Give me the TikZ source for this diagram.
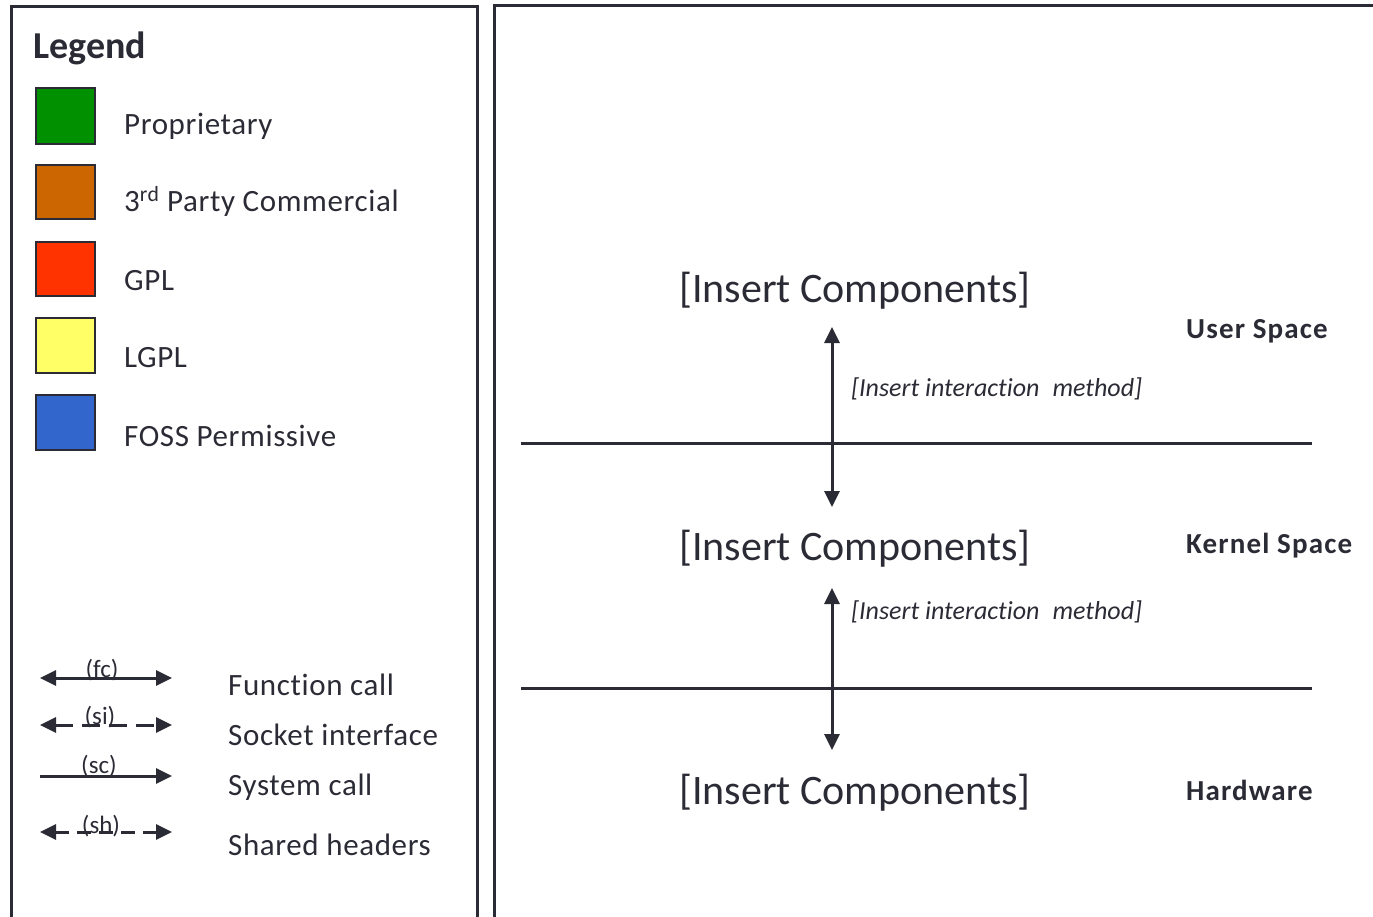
\documentclass[tikz,border=0pt]{standalone}
\usepackage{fontspec}
\setmainfont[Ligatures=CommonOff]{Carlito}
\usetikzlibrary{arrows.meta}
\definecolor{ink}{HTML}{2B2B36}
\definecolor{cProp}{HTML}{009000}
\definecolor{cComm}{HTML}{CC6600}
\definecolor{cGPL}{HTML}{FF3300}
\definecolor{cLGPL}{HTML}{FFFF66}
\definecolor{cFOSS}{HTML}{3366CC}
\tikzset{
  frame/.style={draw=ink, line width=3pt},
  swatch/.style={draw=ink, line width=2.4pt},
  legtxt/.style={anchor=base west, inner sep=0pt, text=ink, font=\fontsize{31}{36}\selectfont\addfontfeature{LetterSpace=2}},
  arrtxt/.style={anchor=base west, inner sep=0pt, text=ink, font=\fontsize{31}{36}\selectfont\addfontfeature{LetterSpace=2}},
  smalllbl/.style={inner sep=0pt, text=ink, font=\fontsize{25}{30}\selectfont},
  comp/.style={anchor=base, inner sep=0pt, text=ink, font=\fontsize{42}{50}\selectfont},
  layer/.style={anchor=base west, inner sep=0pt, text=ink, font=\bfseries\fontsize{29}{34}\selectfont\addfontfeature{LetterSpace=4}},
  imeth/.style={anchor=west, inner sep=0pt, text=ink, font=\itshape\fontsize{26}{31}\selectfont},
  conn/.style={draw=ink, line width=3pt, {Triangle[width=15pt,length=16pt]}-{Triangle[width=15pt,length=16pt]}},
  conn1/.style={draw=ink, line width=3pt, -{Triangle[width=15pt,length=16pt]}},
  sep/.style={draw=ink, line width=3pt},
  dsh/.style={dash pattern=on 18pt off 9pt},
}
\begin{document}
\begin{tikzpicture}[x=1pt,y=-1pt]
\useasboundingbox (0,0) rectangle (1373,916);
% frames
\draw[frame] (11,930) -- (11,6) -- (477,6) -- (477,930);
\draw[frame] (494,930) -- (494,5) -- (1390,5);
% legend
\node[anchor=base west, inner sep=0pt, text=ink, font=\bfseries\fontsize{38}{44}\selectfont] (leg) at (33,58) {Legend};
\node[swatch, fill=cProp, minimum width=59pt, minimum height=56pt, anchor=north west] (s1) at (35,87) {};
\node[swatch, fill=cComm, minimum width=59pt, minimum height=54pt, anchor=north west] (s2) at (35,164) {};
\node[swatch, fill=cGPL, minimum width=59pt, minimum height=54pt, anchor=north west] (s3) at (35,241) {};
\node[swatch, fill=cLGPL, minimum width=59pt, minimum height=55pt, anchor=north west] (s4) at (35,317) {};
\node[swatch, fill=cFOSS, minimum width=59pt, minimum height=55pt, anchor=north west] (s5) at (35,394) {};
\node[legtxt] (t1) at (124,134) {Proprietary};
\node[legtxt] (t2) at (124,211) {3\textsuperscript{rd} Party Commercial};
\node[legtxt] (t3) at (124,290) {GPL};
\node[legtxt] (t4) at (124,367) {LGPL};
\node[legtxt] (t5) at (124,446) {FOSS Permissive};
% connector legend
\coordinate (fa) at (40,678); \coordinate (fb) at (172,678);
\coordinate (sa) at (40,725); \coordinate (sb) at (172,725);
\coordinate (ca) at (40,776); \coordinate (cb) at (172,776);
\coordinate (ha) at (40,832); \coordinate (hb) at (172,832);
\draw[conn] (fa) -- (fb);
\draw[conn, dsh] (sa) -- (sb);
\draw[conn1] (ca) -- (cb);
\draw[conn, dash pattern=on 14pt off 8pt] (ha) -- (hb);
\node[smalllbl, anchor=base] (lfc) at (102,677) {(fc)};
\node[smalllbl, anchor=base] (lsi) at (100,724) {(si)};
\node[smalllbl, anchor=base] (lsc) at (99,773) {(sc)};
\node[smalllbl, anchor=base] (lsh) at (101,833) {(sh)};
\node[arrtxt] (a1) at (228,695) {Function call};
\node[arrtxt] (a2) at (228,745) {Socket interface};
\node[arrtxt] (a3) at (228,795) {System call};
\node[arrtxt] (a4) at (228,855) {Shared headers};
% right panel
\coordinate (l1a) at (521,443); \coordinate (l1b) at (1312,443);
\coordinate (l2a) at (521,688); \coordinate (l2b) at (1312,688);
\draw[sep] (l1a) -- (l1b);
\draw[sep] (l2a) -- (l2b);
\node[comp] (c1) at (855,302) {[Insert Components]};
\node[comp] (c2) at (855,560) {[Insert Components]};
\node[comp] (c3) at (855,804) {[Insert Components]};
\coordinate (v1a) at (832,327); \coordinate (v1b) at (832,507);
\coordinate (v2a) at (832,588); \coordinate (v2b) at (832,750);
\draw[conn] (v1a) -- (v1b);
\draw[conn] (v2a) -- (v2b);
\node[imeth] (m1) at (851,389) {[Insert interaction\hspace{0.5em}method]};
\node[imeth] (m2) at (851,612) {[Insert interaction\hspace{0.5em}method]};
\node[layer] (u) at (1186,338) {User Space};
\node[layer] (k) at (1186,553) {Kernel Space};
\node[layer] (h) at (1186,800) {Hardware};
\end{tikzpicture}
\end{document}
